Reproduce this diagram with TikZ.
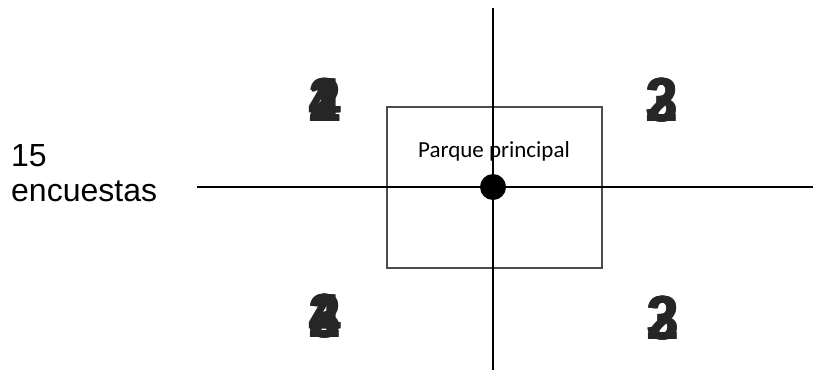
\documentclass[tikz,border=0pt]{standalone}
\usepackage{fontspec}
\setmainfont{Liberation Sans}
\newfontfamily\calib{Carlito}
\begin{document}
\begin{tikzpicture}[x=1pt,y=-1pt,
  axis/.style={line width=2.8pt,black},
  digit/.style={font=\fontsize{62}{62}\selectfont\bfseries,inner sep=0pt,text=black!85,xscale=0.9},
  side/.style={font=\fontsize{32}{36}\selectfont,align=left,anchor=west,inner sep=0pt}]
\useasboundingbox (0,0) rectangle (813,372);
\node[draw=black!70,line width=1.2pt,minimum width=215pt,minimum height=161pt,inner sep=0pt] (park) at (494.5,187.5) {};
\node[font=\calib\fontsize{23}{25}\selectfont,inner sep=0pt] (lbl) at (494,151) {Parque principal};
\coordinate (top) at (493,8);
\coordinate (bot) at (493,370);
\coordinate (left) at (197,187);
\coordinate (right) at (813,187);
\draw[axis] (top) -- (bot);
\draw[axis] (left) -- (right);
\node[circle,fill=black,minimum size=26pt,inner sep=0pt] (c) at (493,187) {};
\node[side] (n15) at (11,156) {15};
\node[side] (enc) at (11,191) {encuestas};
\foreach \d in {1,2,4} \foreach \o in {-1,0,1} \node[digit] at (325+\o,100) {\d};
\foreach \d in {2,3} \foreach \o in {-1,0,1} \node[digit] at (662+\o,100) {\d};
\foreach \d in {2,3,4} \foreach \o in {-1,0,1} \node[digit] at (325+\o,316) {\d};
\foreach \d in {2,3} \foreach \o in {-1,0,1} \node[digit] at (663+\o,318) {\d};
\end{tikzpicture}
\end{document}
